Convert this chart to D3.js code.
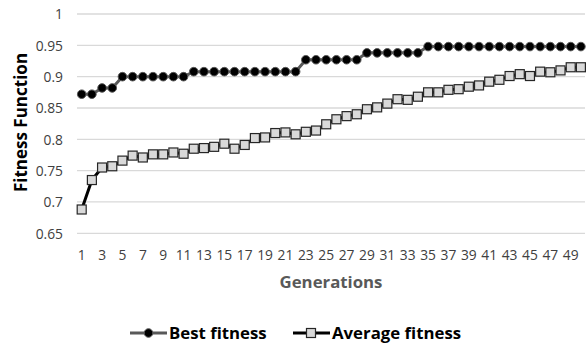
<!DOCTYPE html>
<html><head><meta charset="utf-8">
<script src="https://cdn.jsdelivr.net/npm/d3@7"></script>
<style>body{margin:0;background:#fff}svg{display:block}text{font-family:"Open Sans",sans-serif}</style>
</head><body><svg id="c" width="586" height="347"></svg>
<script>
const generations = d3.range(1, 51);
const bestFitness = [0.872,0.872,0.882,0.882,0.9,0.9,0.9,0.9,0.9,0.9,0.9,0.908,0.908,0.908,0.908,0.908,0.908,0.908,0.908,0.908,0.908,0.908,0.927,0.927,0.927,0.927,0.927,0.927,0.938,0.938,0.938,0.938,0.938,0.938,0.948,0.948,0.948,0.948,0.948,0.948,0.948,0.948,0.948,0.948,0.948,0.948,0.948,0.948,0.948,0.948];
const averageFitness = [0.688,0.735,0.755,0.757,0.766,0.774,0.771,0.776,0.776,0.779,0.777,0.785,0.786,0.788,0.793,0.785,0.791,0.802,0.803,0.810,0.811,0.808,0.812,0.814,0.824,0.832,0.837,0.840,0.848,0.851,0.857,0.864,0.863,0.868,0.875,0.875,0.879,0.880,0.884,0.886,0.892,0.895,0.901,0.904,0.901,0.908,0.907,0.910,0.915,0.915];
const yTicks = [0.65,0.7,0.75,0.8,0.85,0.9,0.95,1];
const xTickLabels = generations.filter(g => g % 2 === 1);
const seriesNames = ["Best fitness","Average fitness"];

const svg = d3.select("#c");
const x = d3.scaleBand().domain(generations).range([76.6, 586]);
const y = d3.scaleLinear().domain([0.65, 1]).range([233.3, 14]);

// gridlines
svg.append("g").selectAll("line").data(yTicks).join("line")
  .attr("x1", 77).attr("x2", 585).attr("y1", d => y(d)).attr("y2", d => y(d))
  .attr("stroke", "#d9d9d9").attr("stroke-width", 1.3);

// y axis labels
const yAxis = d3.axisLeft(y).tickValues(yTicks).tickSize(0).tickPadding(0).tickFormat(d => String(d));
const yg = svg.append("g").attr("transform", "translate(63,0)").call(yAxis);
yg.select(".domain").remove();
yg.selectAll("text").attr("font-size", 13.8).attr("fill", "#404040").attr("font-family", '"Open Sans",sans-serif').attr("dy", "0.35em");

// x axis labels
const xAxis = d3.axisBottom(x).tickValues(xTickLabels).tickSize(0).tickPadding(0);
const xg = svg.append("g").attr("transform", "translate(0,250)").call(xAxis);
xg.select(".domain").remove();
xg.selectAll("text").attr("font-size", 13.8).attr("fill", "#404040").attr("font-family", '"Open Sans",sans-serif');

const cx = d => x(d) + x.bandwidth() / 2;

// best line
const line = d3.line().x((d, i) => cx(generations[i])).y(d => y(d));
svg.append("path").datum(bestFitness).attr("d", line).attr("fill", "none")
  .attr("stroke", "#595959").attr("stroke-width", 3);
svg.append("g").selectAll("circle").data(bestFitness).join("circle")
  .attr("cx", (d, i) => cx(generations[i])).attr("cy", d => y(d)).attr("r", 4.3)
  .attr("fill", "#000").attr("stroke", "#595959").attr("stroke-width", 1);

// average line
svg.append("path").datum(averageFitness).attr("d", line).attr("fill", "none")
  .attr("stroke", "#000").attr("stroke-width", 3);
svg.append("g").selectAll("rect").data(averageFitness).join("rect")
  .attr("x", (d, i) => cx(generations[i]) - 4.5).attr("y", d => y(d) - 4.5)
  .attr("width", 9).attr("height", 9)
  .attr("fill", "#d9d9d9").attr("stroke", "#262626").attr("stroke-width", 1.2);

// axis titles
svg.append("text").attr("x", 331).attr("y", 287.5).attr("text-anchor", "middle")
  .attr("font-size", 16.8).attr("font-weight", "bold").attr("fill", "#595959").text("Generations");
svg.append("text").attr("transform", "translate(26.5,122.5) rotate(-90)").attr("text-anchor", "middle")
  .attr("font-size", 17).attr("font-weight", "bold").attr("fill", "#000").text("Fitness Function");

// legend
const leg = svg.append("g");
leg.append("line").attr("x1", 130).attr("x2", 167).attr("y1", 333).attr("y2", 333).attr("stroke", "#595959").attr("stroke-width", 3);
leg.append("circle").attr("cx", 148.5).attr("cy", 333).attr("r", 4.3).attr("fill", "#000").attr("stroke", "#595959");
leg.append("text").attr("x", 169).attr("y", 339).attr("font-size", 16.8).attr("font-weight", "bold").attr("fill", "#000").text(seriesNames[0]);
leg.append("line").attr("x1", 293).attr("x2", 330).attr("y1", 333).attr("y2", 333).attr("stroke", "#000").attr("stroke-width", 3);
leg.append("rect").attr("x", 306.5).attr("y", 328.5).attr("width", 9).attr("height", 9).attr("fill", "#d9d9d9").attr("stroke", "#262626").attr("stroke-width", 1.2);
leg.append("text").attr("x", 332).attr("y", 339).attr("font-size", 16.8).attr("font-weight", "bold").attr("fill", "#000").text(seriesNames[1]);
</script></body></html>
